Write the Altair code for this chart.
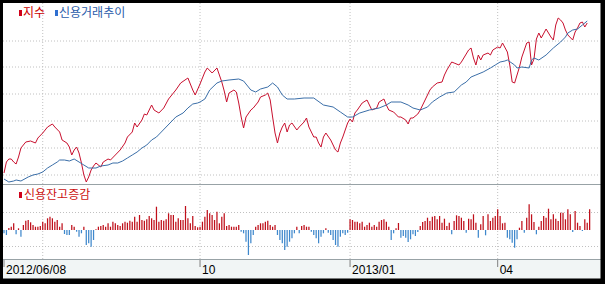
import altair as alt
import pandas as pd

# ---------------- data (trading-day index, value) ----------------
# 지수 (red line)
index_series = [
    (0, 11), (1, 22), (2, 25), (3, 25), (4, 22), (5, 20), (6, 27), (7, 36), (9, 42), (11, 43),
    (13, 41), (14, 46), (16, 51), (18, 57), (20, 60), (21, 57), (23, 52), (24, 44), (26, 41), (27, 37),
    (28, 29), (29, 34), (30, 37), (31, 31), (32, 21), (33, 9), (34, 2), (35, 7), (36, 14), (37, 18),
    (38, 21), (40, 17), (41, 22), (43, 25), (44, 24), (46, 29), (48, 34), (50, 41), (51, 47), (53, 52),
    (54, 61), (55, 57), (57, 64), (58, 70), (59, 69), (61, 79), (62, 74), (64, 71), (66, 76), (68, 85),
    (69, 88), (71, 94), (73, 101), (76, 106), (78, 94), (79, 89), (81, 100), (83, 112), (84, 116), (86, 111),
    (88, 116), (89, 109), (90, 102), (91, 93), (92, 82), (93, 91), (95, 94), (96, 92), (97, 81), (98, 67),
    (99, 56), (100, 67), (102, 74), (103, 76), (105, 82), (106, 87), (108, 89), (109, 91), (110, 84), (111, 67),
    (112, 51), (113, 41), (114, 51), (115, 57), (116, 61), (117, 52), (118, 59), (119, 61), (121, 54), (122, 57),
    (124, 62), (125, 66), (126, 57), (128, 47), (129, 47), (130, 41), (131, 37), (132, 47), (133, 51), (135, 44),
    (136, 39), (137, 34), (138, 32), (139, 41), (140, 47), (142, 61), (143, 65), (144, 62), (145, 71), (146, 74),
    (148, 81), (150, 84), (151, 79), (152, 74), (154, 76), (155, 82), (157, 85), (158, 79), (159, 74), (161, 72),
    (163, 67), (164, 67), (166, 64), (167, 60), (168, 66), (169, 66), (171, 70), (172, 74), (174, 84), (176, 94),
    (177, 97), (179, 101), (181, 102), (182, 109), (183, 114), (185, 122), (186, 121), (188, 119), (189, 122), (190, 126),
    (192, 134), (193, 136), (194, 126), (195, 119), (196, 129), (197, 124), (198, 129), (200, 131), (201, 129), (202, 134),
    (204, 137), (205, 136), (206, 141), (208, 132), (209, 119), (210, 102), (211, 101), (212, 109), (213, 117), (214, 127),
    (216, 141), (217, 142), (218, 119), (219, 125), (220, 145), (221, 151), (222, 146), (224, 155), (226, 147), (227, 144),
    (228, 159), (229, 166), (230, 164), (231, 161), (232, 154), (233, 149), (235, 144), (236, 152), (237, 156), (238, 161),
    (239, 162), (240, 157), (241, 161),
]

# 신용거래추이 (blue line)
credit_series = [
    (0, 5), (2, 2), (4, 3), (5, 4), (7, 3), (10, 7), (12, 9), (14, 10), (16, 12), (18, 16),
    (20, 19), (22, 22), (23, 24), (25, 24), (27, 23), (29, 25), (31, 22), (33, 19), (35, 16), (36, 16),
    (38, 16), (40, 18), (43, 19), (45, 21), (47, 21), (49, 23), (51, 26), (53, 29), (55, 32), (57, 36),
    (59, 39), (61, 44), (63, 47), (65, 52), (67, 57), (69, 62), (71, 67), (74, 71), (76, 76), (78, 80),
    (80, 81), (81, 82), (83, 85), (85, 94), (88, 101), (90, 103), (93, 104), (97, 105), (99, 103), (102, 94),
    (104, 92), (106, 95), (109, 97), (111, 101), (113, 97), (115, 89), (117, 85), (120, 85), (124, 86), (128, 86),
    (132, 79), (136, 77), (139, 72), (142, 67), (144, 67), (147, 71), (151, 74), (155, 76), (158, 79), (160, 82),
    (164, 82), (167, 79), (169, 76), (172, 74), (175, 77), (177, 82), (180, 87), (183, 91), (186, 92), (189, 99),
    (191, 102), (193, 107), (195, 109), (198, 112), (201, 116), (203, 119), (205, 122), (207, 123), (208, 124), (211, 119),
    (212, 116), (214, 117), (217, 116), (218, 124), (219, 126), (221, 124), (224, 129), (227, 136), (230, 142), (232, 147),
    (233, 151), (235, 154), (237, 155), (239, 159), (241, 163),
]

# 신용잔고증감 (bars, one per trading day)
credit_change = [
    -3.3, -5, 2, 3.3, 6.7, -4.3, 1.7, -6.7, 5, 9.3, 10, 7.7, 5, 3.3, 3.3, 4, 8.3, 6.7, 11.7, 13.3,
    11.7, 8.3, 10, 3.3, 6.7, -4, -5, -5, 5, 3.3, -1.7, -6.7, -3.3, 3.3, -15, -13.3, -16.7, -10, 0.7, 3.3,
    4, 5, 3.3, 6.7, 3.3, 8.3, 6.7, 5, 4, 6.7, 8.3, 7.3, 9.3, 8.3, 13.3, 8.3, 15, 10, 9.3, 10.7,
    14, 11.7, 10, 23.3, 8.3, 10, 9.3, 10.7, 16.7, 15, 15, 8.3, 11.7, 10, 10, 24, 11.7, 6.7, 14, 4,
    2.7, 3.3,
    8.3, 13.3, 20, 16.7, 15, 10, 18.3, 6.7, 13.3, 16.7, 4, 5, 3.3, 3.3, 3.3, 5, -1.7, -3.3, -11.7, -25,
    -13.3, -5, 3.3, 5, 6.7, 6.7, 8.3, 9.3, 5, 3.3, 5, -5, -10, -13.3, -20, -16.7, -11.7, -8.3, -3.3, 3.3,
    -3.3, 4, 5, 3.3, 3.3, -1.7, -5, -8.3, -13.3, -6.7, -3.3, 1.7, -2.7, -5, -10, -15, -16.7, -6.7, -3.3, -5,
    -2.7,
    10.7, 10, 8.3, 8.3, 6.7, 8.3, 3.3, 5, 7.3, 3.3, 5, 3.3, 8.3, 10, 10.7, 8.3, 3.3, -10, -3.3, 1.7,
    7, -7.7, -6, -7.7, -12, -9.3, -4.3, -6, -2, 4, 8, 9, 12.3, 9, 13.3, 14, 10.7, 14, 7.3, 11.3,
    4, 7.3, -4.3, 9, 14.7, 14, 12.3, 9, -2.7, 11.3, 10.7, 15.7, 7.3, -7.7, 5.7, 14, -5.3, 15.7, 9, 12.3,
    14,
    20.7, 14, 6.7, 7.3, -7.7, -9.3, -12.7, -17.7, -9.3, 2.3, 9, -2.7, 12.3, 25.7, 15.7, 8, -4.3, 3.3, 9, 14,
    12.3, 21.3, 10.7, 15.7, 11.3, 9, 17.3, 17.3, 10.7, 20.7, 15.7, -2, 19, 7.3, 4, -1, 10.7, 7.3, 20.7,
]

tick_days = [0, 81, 143, 204]
tick_labels = ["2012/06/08", "10", "2013/01", "04"]
grid_days = [16, 81, 143, 204]
upper_grid = [9, 36, 63, 90, 117, 143]
lower_grid = [17.5, -16.5]

# ---------------- styling ----------------
RED_LINE = "#c8102e"
BLUE_LINE = "#3a6ea8"
RED_BAR = "#bf0f1a"
BLUE_BAR = "#3f88cc"
GRID = "#c0c0c0"
SEP = "#98a2a6"
KFONT = "Noto Sans CJK KR"

N = len(credit_change)
xs = alt.Scale(domain=[0, N - 1], range=[4, 4 + 2.42 * (N - 1)], nice=False, zero=False)
ys_up = alt.Scale(domain=[0, 181], range=[184, 3], nice=False, zero=False)
ys_lo = alt.Scale(domain=[-29, 46], range=[259, 184], nice=False, zero=False)

one = pd.DataFrame({"k": [0]})
red_df = pd.DataFrame(index_series, columns=["day", "v"])
blue_df = pd.DataFrame(credit_series, columns=["day", "v"])
bar_df = pd.DataFrame({"day": list(range(N)), "v": credit_change, "base": [0] * N})


def box(x1, x2, y1, y2, color):
    return alt.Chart(one).mark_rect(color=color).encode(
        x=alt.value(x1), x2=alt.value(x2), y=alt.value(y1), y2=alt.value(y2)
    )


band = box(0, 605, 259, 284, "#f1f5f5")

ug = alt.Chart(pd.DataFrame({"g": upper_grid})).mark_rule(
    color=GRID, strokeDash=[1, 2], strokeWidth=1
).encode(y=alt.Y("g:Q", scale=ys_up, axis=None), x=alt.value(3), x2=alt.value(600))

lg = alt.Chart(pd.DataFrame({"g": lower_grid})).mark_rule(
    color=GRID, strokeDash=[1, 2], strokeWidth=1
).encode(y=alt.Y("g:Q", scale=ys_lo, axis=None), x=alt.value(3), x2=alt.value(600))

vg = alt.Chart(pd.DataFrame({"d": grid_days})).mark_rule(
    color=GRID, strokeDash=[1, 2], strokeWidth=1
).encode(x=alt.X("d:Q", scale=xs, axis=None), y=alt.value(3), y2=alt.value(259))

sep1 = alt.Chart(one).mark_rule(color=SEP, strokeWidth=1).encode(
    x=alt.value(3), x2=alt.value(601), y=alt.value(184.5)
)
sep2 = alt.Chart(one).mark_rule(color=SEP, strokeWidth=1).encode(
    x=alt.value(3), x2=alt.value(601), y=alt.value(259.5)
)

bars = alt.Chart(bar_df).mark_rule(strokeWidth=1.25).encode(
    x=alt.X("day:Q", scale=xs, axis=None),
    y=alt.Y("v:Q", scale=ys_lo, axis=None),
    y2="base:Q",
    color=alt.condition("datum.v >= 0", alt.value(RED_BAR), alt.value(BLUE_BAR)),
)

red_line = alt.Chart(red_df).mark_line(color=RED_LINE, strokeWidth=1).encode(
    x=alt.X("day:Q", scale=xs, axis=None), y=alt.Y("v:Q", scale=ys_up, axis=None)
)
blue_line = alt.Chart(blue_df).mark_line(color=BLUE_LINE, strokeWidth=1).encode(
    x=alt.X("day:Q", scale=xs, axis=None), y=alt.Y("v:Q", scale=ys_up, axis=None)
)

tick_df = pd.DataFrame({"d": tick_days, "label": tick_labels})
ticks = alt.Chart(tick_df).mark_rule(color="#808080", strokeWidth=1).encode(
    x=alt.X("d:Q", scale=xs, axis=None), y=alt.value(260), y2=alt.value(267)
)
tick_text = alt.Chart(tick_df).mark_text(
    align="left", baseline="middle", dx=2, font="Liberation Sans", fontSize=12, color="#000000"
).encode(x=alt.X("d:Q", scale=xs, axis=None), y=alt.value(270), text="label:N")


def label(txt, x, y, color):
    return alt.Chart(one).mark_text(
        text=txt, align="left", baseline="middle", font=KFONT, fontSize=12, color=color
    ).encode(x=alt.value(x), y=alt.value(y))


leg = [
    box(19, 22, 10, 16, "#d0021b"),
    label("지수", 23, 13, "#cc0000"),
    box(55, 58, 10, 16, "#2f6fd0"),
    label("신용거래추이", 59, 13, "#2a5caa"),
    box(19, 22, 192, 198, "#d0021b"),
    label("신용잔고증감", 24, 195, "#cc1111"),
]

border = [
    box(0, 605, 0, 3, "#000000"),
    box(0, 3, 0, 284, "#000000"),
    box(600.5, 605, 0, 284, "#000000"),
    box(0, 605, 278.5, 284, "#000000"),
]

chart = alt.layer(
    band, ug, lg, vg, sep1, sep2, bars, red_line, blue_line, ticks, tick_text, *leg, *border
).resolve_scale(y="independent").properties(
    width=605, height=284, padding=0, autosize=alt.AutoSizeParams(type="none"), background="#ffffff"
).configure_view(stroke=None)

chart.save("out.html", embed_options={"renderer": "svg", "actions": False})
